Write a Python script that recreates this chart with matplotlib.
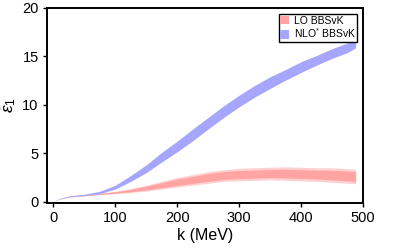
import matplotlib.pyplot as plt
import numpy as np

plt.rcParams['font.family'] = ['Liberation Sans', 'DejaVu Sans']
plt.rcParams['mathtext.fontset'] = 'custom'
plt.rcParams['mathtext.rm'] = 'Liberation Sans'
plt.rcParams['mathtext.it'] = 'Liberation Sans:italic'

# momentum grid (MeV)
k = [0, 10, 25, 50, 75, 100, 125, 150, 175, 200, 225, 250,
     275, 300, 325, 350, 375, 400, 425, 450, 475, 488]

# NLO* band: centre and half width
nlo_mid = [0, 0.3, 0.55, 0.7, 0.95, 1.5, 2.4, 3.4, 4.6, 5.7, 6.9, 8.1,
           9.3, 10.4, 11.4, 12.3, 13.1, 13.9, 14.6, 15.3, 15.9, 16.4]
nlo_hw = [0, 0.03, 0.05, 0.07, 0.12, 0.2, 0.3, 0.4, 0.5, 0.55, 0.6, 0.6,
          0.6, 0.6, 0.6, 0.6, 0.55, 0.55, 0.5, 0.5, 0.5, 0.5]

# LO band: centre, outer and inner half widths
lo_mid = [0, 0.3, 0.5, 0.65, 0.8, 0.95, 1.15, 1.4, 1.7, 2.0, 2.25, 2.5,
          2.7, 2.8, 2.85, 2.9, 2.9, 2.85, 2.8, 2.75, 2.65, 2.6]
lo_out = [0, 0.02, 0.03, 0.05, 0.08, 0.12, 0.2, 0.3, 0.4, 0.5, 0.55, 0.6,
          0.6, 0.65, 0.65, 0.65, 0.7, 0.7, 0.7, 0.75, 0.75, 0.75]
lo_in = [0, 0.01, 0.02, 0.03, 0.05, 0.08, 0.13, 0.2, 0.26, 0.33, 0.36, 0.4,
         0.4, 0.42, 0.42, 0.42, 0.45, 0.45, 0.45, 0.5, 0.5, 0.5]


def main():
    kk = np.array(k)
    fig = plt.figure(figsize=(3.99, 2.49), dpi=100)
    ax = fig.add_axes([0.118, 0.185, 0.792, 0.783])

    lm, lo, li = np.array(lo_mid), np.array(lo_out), np.array(lo_in)
    nm, nh = np.array(nlo_mid), np.array(nlo_hw)

    ax.fill_between(kk, lm - lo, lm + lo, color='#ffd0d0', lw=0)
    ax.fill_between(kk, lm - li, lm + li, color='#ffa3a3', lw=0,
                    label='LO BBSvK')
    ax.fill_between(kk, nm - nh, nm + nh, color='#a6a6ff', lw=0,
                    label='NLO$^{*}$ BBSvK')

    ax.set_xlim(-10, 500)
    ax.set_ylim(-0.13, 20)
    ax.set_xticks([0, 100, 200, 300, 400, 500])
    ax.set_yticks([0, 5, 10, 15, 20])
    ax.tick_params(direction='out', length=3, width=1, labelsize=10.5,
                   pad=3)
    for s in ax.spines.values():
        s.set_linewidth(1.4)

    ax.set_xlabel('k (MeV)', fontsize=11.5, labelpad=2)
    ax.set_ylabel(r'$\bar{\epsilon}_1$', fontsize=12.5, labelpad=3)

    leg = ax.legend(loc='upper right', fontsize=7.5, frameon=True,
                    fancybox=False, edgecolor='black', framealpha=1,
                    handlelength=0.9, handleheight=0.9, handletextpad=0.4,
                    borderpad=0.15, labelspacing=0.05, borderaxespad=0,
                    bbox_to_anchor=(0.982, 0.968))
    leg.get_frame().set_linewidth(1.0)

    fig.savefig('out.png', dpi=100)


if __name__ == "__main__":
    main()
